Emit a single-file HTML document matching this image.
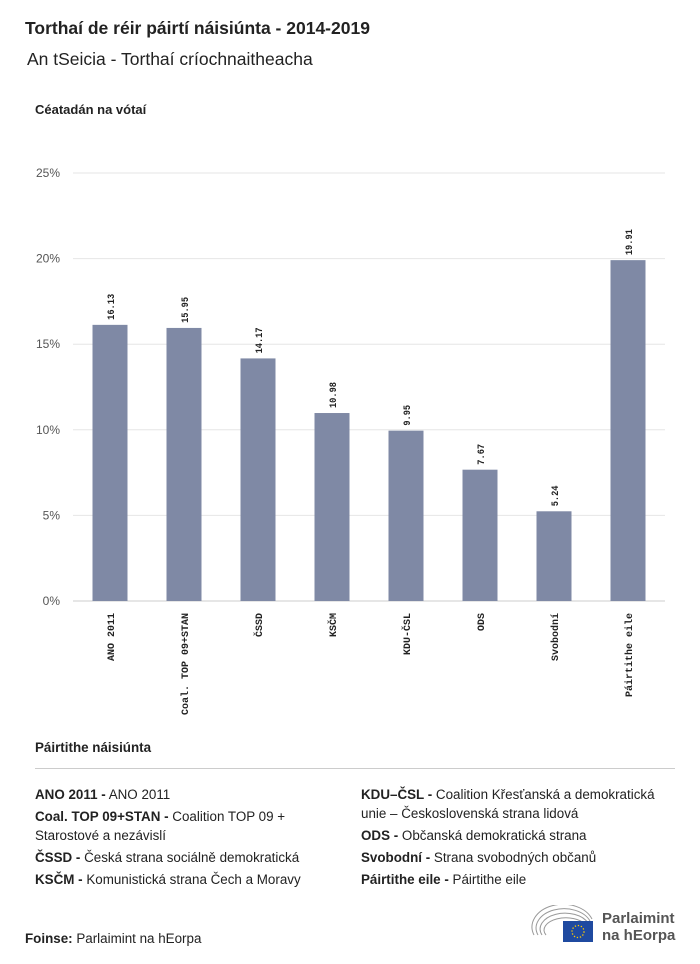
<!DOCTYPE html>
<html><head><meta charset="utf-8"><style>
body{margin:0;width:700px;height:964px;background:#fff;font-family:"Liberation Sans",sans-serif;color:#222;position:relative;overflow:hidden}
.a{position:absolute}
.leg{font-size:13.4px;line-height:19px;color:#222}
.leg b{font-weight:bold}
</style></head><body>
<div class="a" style="left:25px;top:18px;font-size:17.5px;font-weight:bold">Torthaí de réir páirtí náisiúnta - 2014-2019</div>
<div class="a" style="left:27px;top:49px;font-size:17.5px">An tSeicia - Torthaí críochnaitheacha</div>
<div class="a" style="left:35px;top:102px;font-size:13px;font-weight:bold">Céatadán na vótaí</div>
<svg class="a" style="left:0;top:0" width="700" height="730" id="chart"></svg>
<div class="a" style="left:35px;top:740px;font-size:13.4px;font-weight:bold">Páirtithe náisiúnta</div>
<div class="a" style="left:35px;top:768px;width:640px;height:1px;background:#ccc"></div>
<div class="a leg" style="left:35px;top:785px;width:300px">
<div style="margin-bottom:3px"><b>ANO 2011 -</b> ANO 2011</div>
<div style="margin-bottom:3px"><b>Coal. TOP 09+STAN -</b> Coalition TOP 09 + Starostové a nezávislí</div>
<div style="margin-bottom:3px"><b>ČSSD -</b> Česká strana sociálně demokratická</div>
<div><b>KSČM -</b> Komunistická strana Čech a Moravy</div>
</div>
<div class="a leg" style="left:361px;top:785px;width:310px">
<div style="margin-bottom:3px"><b>KDU–ČSL -</b> Coalition Křesťanská a demokratická unie – Československá strana lidová</div>
<div style="margin-bottom:3px"><b>ODS -</b> Občanská demokratická strana</div>
<div style="margin-bottom:3px"><b>Svobodní -</b> Strana svobodných občanů</div>
<div><b>Páirtithe eile -</b> Páirtithe eile</div>
</div>
<div class="a" style="left:25px;top:931px;font-size:13.4px"><b>Foinse:</b> Parlaimint na hEorpa</div>
<div class="a" style="left:530px;top:905px;width:160px;height:40px">
<svg width="66" height="40" style="position:absolute;left:0;top:0">
<g fill="none" stroke="#999" stroke-width="1">
<path d="M4 30 A30 22 0 0 1 62 14"/><path d="M8 30 A26 18 0 0 1 60 16"/><path d="M12 30 A22 14 0 0 1 58 18"/><path d="M16 30 A18 10 0 0 1 56 20"/></g>
<rect x="33" y="16" width="30" height="21" fill="#1f4aa0"/>
<circle cx="48" cy="26.5" r="6" fill="none" stroke="#fc0" stroke-width="1.3" stroke-dasharray="1.3 1.8"/>
</svg>
<div style="position:absolute;left:72px;top:5px;font-size:15px;font-weight:bold;color:#555;line-height:17px">Parlaimint<br>na hEorpa</div>
</div>
<script>
const categories=["ANO 2011","Coal. TOP 09+STAN","ČSSD","KSČM","KDU-ČSL","ODS","Svobodní","Páirtithe eile"];
const values=[16.13,15.95,14.17,10.98,9.95,7.67,5.24,19.91];
const valueLabels=["16.13","15.95","14.17","10.98","9.95","7.67","5.24","19.91"];
const yTicks=[0,5,10,15,20,25];
const svg=document.getElementById('chart');
const NS='http://www.w3.org/2000/svg';
const x0=73,x1=665,y0=601,yTop=173,yMax=25;
const step=(x1-x0)/categories.length,bw=35;
const y=v=>y0-(v/yMax)*(y0-yTop);
const xc=i=>x0+step*(i+0.5);
function mk(t,a){const e=document.createElementNS(NS,t);for(const k in a)e.setAttribute(k,a[k]);svg.appendChild(e);return e;}
yTicks.forEach(t=>{
 const l=mk('line',{x1:x0,x2:x1,y1:y(t),y2:y(t),stroke:t===0?'#ccc':'#e6e6e6'});
 
 
 const tx=mk('text',{x:60,y:y(t)+4,'text-anchor':'end','font-size':12,fill:'#555','font-family':'Liberation Sans, sans-serif'});
 tx.textContent=t+'%';
 
 
});
values.forEach((v,i)=>{
 const r=mk('rect',{x:xc(i)-bw/2,y:y(v),width:bw,height:y0-y(v),fill:'#7f89a5'});
 
 
 const lx=xc(i)+4,ly=y(v)-5;
 const t=mk('text',{x:lx,y:ly,transform:`rotate(-90 ${lx} ${ly})`,'font-size':10,'font-weight':'bold',fill:'#222','font-family':'Liberation Mono, monospace','textLength':valueLabels[i].length*5.2,'lengthAdjust':'spacingAndGlyphs'});
 t.textContent=valueLabels[i];
 
 
 const cx=xc(i)+4,cy=y0+12;
 const c=mk('text',{x:cx,y:cy,transform:`rotate(-90 ${cx} ${cy})`,'text-anchor':'end','font-size':10,'font-weight':'bold',fill:'#222','font-family':'Liberation Mono, monospace'});
 c.textContent=categories[i];
 
 
});
</script>
</body></html>
